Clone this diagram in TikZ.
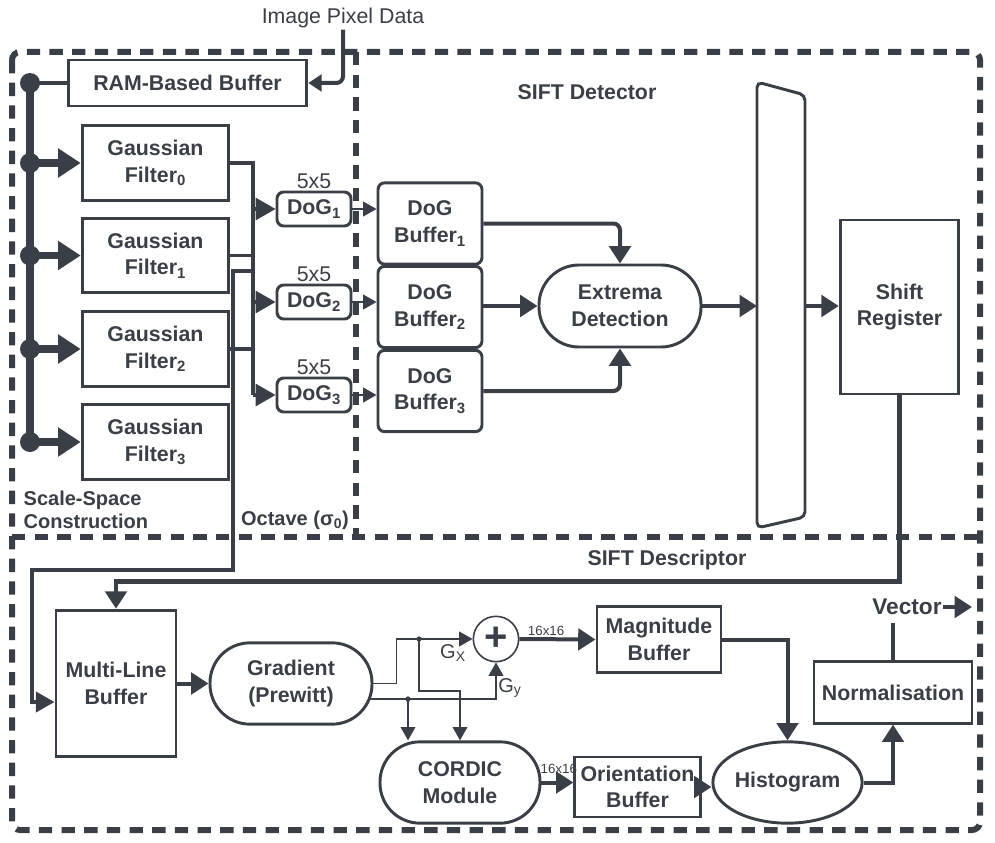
\documentclass[tikz,border=0pt]{standalone}
\usepackage{fontspec}
\setmainfont{Liberation Sans}
\usetikzlibrary{arrows.meta,positioning,calc,shapes.geometric}
\definecolor{ink}{RGB}{58,63,71}

\begin{document}
\begin{tikzpicture}[x=0.75pt,y=-0.75pt,color=ink]
\tikzstyle{block}=[draw, line width=2.2pt, align=center, inner sep=0pt, font=\bfseries\fontsize{16}{20}\selectfont]
\tikzstyle{pill}=[block, rounded corners=30pt]
\tikzstyle{region}=[draw, line width=4.5pt, dash pattern=on 10pt off 7pt]
\tikzstyle{title}=[align=center, font=\bfseries\fontsize{16}{20}\selectfont]
\tikzstyle{flow}=[line width=3pt, -{Triangle[length=13pt,width=16pt]}]
\tikzstyle{feed}=[line width=5.5pt, -{Triangle[length=17pt,width=21pt]}]
\tikzstyle{wire}=[line width=1.2pt, -{Triangle[length=10pt,width=11pt]}]
\tikzstyle{tap}=[line width=2.5pt]
\tikzstyle{tiny}=[inner sep=1pt, font=\fontsize{10}{12}\selectfont]
\tikzstyle{plain}=[inner sep=1pt, font=\fontsize{16}{18}\selectfont]

\useasboundingbox (0,0) rectangle (995,842);

% regions
\draw[region, rounded corners=6pt] (12,52) rectangle (980,830);
\draw[region] (12,537) -- (980,537);
\draw[region] (356,52) -- (356,537);

\node[title] (det) at (587,92) {SIFT Detector};
\node[title] (des) at (667,560) {SIFT Descriptor};
\node[title, anchor=west, align=left, font=\bfseries\fontsize{15}{17}\selectfont] (ssc) at (19,510) {Scale-Space\\Construction};
\node[title, font=\bfseries\fontsize{15}{18}\selectfont] (oct) at (295,520) {Octave (σ\textsubscript{0})};

% scale-space construction
\node[plain] (pix) at (343,18) {Image Pixel Data};
\node[block, minimum width=179pt, minimum height=34.5pt] (ram) at (187.5,83) {RAM-Based Buffer};
\node[block, minimum width=110pt, minimum height=56pt] (gf0) at (155.5,163) {Gaussian\\Filter\textsubscript{0}};
\node[block, minimum width=110pt, minimum height=56pt] (gf1) at (155.5,255.5) {Gaussian\\Filter\textsubscript{1}};
\node[block, minimum width=110pt, minimum height=56pt] (gf2) at (155.5,349) {Gaussian\\Filter\textsubscript{2}};
\node[block, minimum width=110pt, minimum height=56pt] (gf3) at (155.5,442) {Gaussian\\Filter\textsubscript{3}};

\node[block, rounded corners=5pt, minimum width=55.5pt, minimum height=25.5pt] (dog1) at (314,209) {DoG\textsubscript{1}};
\node[block, rounded corners=5pt, minimum width=55.5pt, minimum height=25.5pt] (dog2) at (314,302) {DoG\textsubscript{2}};
\node[block, rounded corners=5pt, minimum width=55.5pt, minimum height=25.5pt] (dog3) at (314,395) {DoG\textsubscript{3}};
\node[plain, above=0pt of dog1] (win1) {5x5};
\node[plain, above=0pt of dog2] (win2) {5x5};
\node[plain, above=0pt of dog3] (win3) {5x5};

% detector
\node[block, rounded corners=5pt, minimum width=78pt, minimum height=61pt] (buf1) at (430,223.5) {DoG\\Buffer\textsubscript{1}};
\node[block, rounded corners=5pt, minimum width=78pt, minimum height=61pt] (buf2) at (430,307) {DoG\\Buffer\textsubscript{2}};
\node[block, rounded corners=5pt, minimum width=78pt, minimum height=61pt] (buf3) at (430,391) {DoG\\Buffer\textsubscript{3}};
\node[pill, minimum width=121.5pt, minimum height=61.5pt] (ext) at (620,306) {Extrema\\Detection};
\draw[line width=2.2pt, rounded corners=4pt] (757,82) -- (805,95) -- (805,517) -- (757,528) -- cycle;
\coordinate (muxin) at (757,306);
\coordinate (muxout) at (805,306);
\node[block, minimum width=89pt, minimum height=130.5pt] (shift) at (899.5,307) {Shift\\Register};

% descriptor
\node[block, minimum width=90pt, minimum height=110pt] (mlb) at (116,683.5) {Multi-Line\\Buffer};
\node[pill, minimum width=121.5pt, minimum height=61pt] (grad) at (291,683.5) {Gradient\\(Prewitt)};
\node[circle, draw, line width=1.2pt, minimum size=34pt, inner sep=0pt, font=\bfseries\fontsize{30}{30}\selectfont] (plus) at (496,639) {+};
\node[block, minimum width=93pt, minimum height=50pt] (mag) at (659,639.5) {Magnitude\\Buffer};
\node[pill, minimum width=120pt, minimum height=61pt] (cordic) at (460,782.5) {CORDIC\\Module};
\node[block, minimum width=94pt, minimum height=45pt, font=\bfseries\fontsize{16}{19}\selectfont] (orient) at (637.5,787) {Orientation\\Buffer};
\node[block, ellipse, minimum width=94pt, minimum height=61pt] (hist) at (787.5,782.5) {Histogram};
\node[block, minimum width=118.5pt, minimum height=46pt] (norm) at (893,692.5) {Normalisation};
\node[inner sep=1pt, font=\bfseries\fontsize{17}{20}\selectfont] (vec) at (907,607) {Vector};
\coordinate (vecout) at (972,607);
\node[plain, font=\fontsize{15}{18}\selectfont] (gxl) at (453,653) {G\textsubscript{X}};
\node[plain, font=\fontsize{15}{18}\selectfont] (gyl) at (510,688) {G\textsubscript{y}};

% input and bus
\draw[line width=3pt, rounded corners=5pt, -{Triangle[length=10pt,width=12.5pt]}] (pix.south) |- (ram.east);
\coordinate (busx) at (30,0);
\draw[line width=6pt] (ram.west -| busx) -- (gf3.west -| busx);
\draw[line width=3.5pt] (ram.west -| busx) -- (ram.west);
\draw[feed] (gf0.west -| busx) -- (gf0.west);
\draw[feed] (gf1.west -| busx) -- (gf1.west);
\draw[feed] (gf2.west -| busx) -- (gf2.west);
\draw[feed] (gf3.west -| busx) -- (gf3.west);
\fill (ram.west -| busx) circle (7.5pt);
\fill (gf0.west -| busx) circle (7.5pt);
\fill (gf1.west -| busx) circle (7.5pt);
\fill (gf2.west -| busx) circle (7.5pt);
\fill (gf3.west -| busx) circle (7.5pt);

% filters to DoG
\coordinate (tapT) at (253,163);
\coordinate (tapB) at (253,395);
\coordinate (tapO) at (253,271);
\draw[tap] (gf0.east) -- (tapT) -- (tapB);
\draw[tap] (gf1.east) -- (gf1.east -| tapT);
\draw[tap] (gf2.east) -- (gf2.east -| tapT);
\draw[tap, -{Triangle[length=15pt,width=16.5pt]}] (dog1.west -| tapT) -- (dog1.west);
\draw[tap, -{Triangle[length=15pt,width=16.5pt]}] (dog2.west -| tapT) -- (dog2.west);
\draw[tap, -{Triangle[length=15pt,width=16.5pt]}] (tapB) -- (dog3.west);
\fill (tapO) circle (1.5pt);
\draw[line width=3pt, -{Triangle[length=14pt,width=15pt]}] (tapO) -- ++(-20,0) -- ++(0,299) -- ++(-201,0) |- ($(mlb.west)+(0,18.5)$);

% DoG to buffers
\draw[wire] (dog1.east) -- (dog1.east -| buf1.west);
\draw[wire] (dog2.east) -- (dog2.east -| buf2.west);
\draw[wire] (dog3.east) -- (dog3.east -| buf3.west);

% detector flow
\draw[flow, rounded corners=5pt] (buf1.east) -| (ext.north);
\draw[flow] (ext.west -| buf2.east) -- (ext.west);
\draw[flow, rounded corners=5pt] (buf3.east) -| (ext.south);
\draw[flow] (ext.east) -- (muxin);
\draw[flow] (muxout) -- (muxout -| shift.west);
\draw[flow, line width=3.5pt] (shift.south) -- ++(0,186) -| (mlb.north);

% descriptor flow
\draw[flow] (mlb.east) -- (grad.west);
\coordinate (gy0) at ($(grad.center)+(78,15.5)$);
\coordinate (jx) at (419,639);
\coordinate (jy) at (408,699);
\draw[wire] (grad.east) -- ++(23,0) |- (plus.west);
\draw[wire] (gy0) -| (plus.south);
\draw[wire] (jx) -- ++(0,52) -| (cordic.north);
\draw[wire] (jy) -- (jy |- cordic.north);
\fill (jx) circle (2pt);
\fill (jy) circle (2pt);
\draw[flow] (plus.east) -- node[tiny, above, pos=0.35] (dim1) {16x16} (mag.west);
\draw[flow] (cordic.east) -- node[tiny, above=4pt, xshift=1pt] (dim2) {16x16} (cordic.east -| orient.west);
\draw[flow] (mag.east) -| (hist.north);
\draw[flow] (orient.east) -- (orient.east -| hist.west);
\draw[flow] (hist.east) -| (norm.south);
\draw[line width=3.5pt] (norm.north) -- ++(0,-37);
\draw[flow] (vec.east) -- (vecout);
\end{tikzpicture}
\end{document}
